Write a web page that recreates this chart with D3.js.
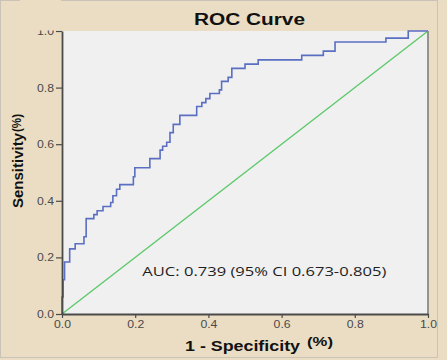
<!DOCTYPE html>
<html><head><meta charset="utf-8">
<script src="https://cdn.jsdelivr.net/npm/d3@7"></script>
<style>body{margin:0;background:#EBDDC3;} svg{display:block;}</style>
</head><body>
<script>
// ROC operating points (1 - specificity, sensitivity)
const fpr = [0, 0, 0.003, 0.007, 0.021, 0.036, 0.060, 0.066, 0.087, 0.096, 0.112, 0.133, 0.139, 0.149, 0.158, 0.195, 0.199, 0.240, 0.268, 0.275, 0.286, 0.295, 0.304, 0.322, 0.368, 0.382, 0.393, 0.404, 0.430, 0.436, 0.454, 0.464, 0.500, 0.536, 0.655, 0.714, 0.746, 0.885, 0.946, 1.0];
const tpr = [0, 0.060, 0.121, 0.184, 0.230, 0.248, 0.273, 0.337, 0.351, 0.365, 0.380, 0.394, 0.418, 0.441, 0.457, 0.485, 0.517, 0.549, 0.579, 0.593, 0.607, 0.641, 0.670, 0.702, 0.733, 0.747, 0.761, 0.779, 0.792, 0.822, 0.836, 0.868, 0.883, 0.898, 0.914, 0.929, 0.961, 0.975, 1.0, 1.0];
const refLine = [[0, 0], [1, 1]];
const tickValues = [0, 0.2, 0.4, 0.6, 0.8, 1.0];
const tickLabels = ["0.0", "0.2", "0.4", "0.6", "0.8", "1.0"];
const titleText = "ROC Curve";
const xTitle = "1 - Specificity";
const yTitle = "Sensitivity";
const unitText = "(%)";
const aucText = "AUC: 0.739 (95% CI 0.673-0.805)";

const W = 447, H = 360;
const svg = d3.select("body").append("svg").attr("width", W).attr("height", H);
svg.append("rect").attr("x", 0).attr("y", 0).attr("width", W).attr("height", H).attr("fill", "#EBDDC3");
svg.append("rect").attr("x", 0.5).attr("y", 0.5).attr("width", 437).attr("height", 357)
  .attr("fill", "none").attr("stroke", "#C9C3B8").attr("stroke-width", 1);

const x = d3.scaleLinear().domain([0, 1]).range([62, 428]);
const y = d3.scaleLinear().domain([0, 1]).range([314, 31]);

// plot background
svg.append("rect").attr("x", x(0)).attr("y", y(1)).attr("width", x(1) - x(0)).attr("height", y(0) - y(1))
  .attr("fill", "#F0F0F0");

// reference diagonal
svg.append("path").datum(refLine)
  .attr("d", d3.line().x(d => x(d[0])).y(d => y(d[1])))
  .attr("fill", "none").attr("stroke", "#5CC96B").attr("stroke-width", 1.4);

// ROC curve
const pts = fpr.map((v, i) => [v, tpr[i]]);
svg.append("path").datum(pts)
  .attr("d", d3.line().x(d => x(d[0])).y(d => y(d[1])).curve(d3.curveStepAfter))
  .attr("fill", "none").attr("stroke", "#5A6EC2").attr("stroke-width", 1.6).attr("stroke-linejoin", "miter");

// right border
svg.append("line").attr("x1", x(1)).attr("x2", x(1)).attr("y1", y(1)).attr("y2", y(0))
  .attr("stroke", "#8A8A8A").attr("stroke-width", 1.8);

// axes
const xAxis = svg.append("g").attr("transform", `translate(0,${y(0)})`)
  .call(d3.axisBottom(x).tickValues(tickValues).tickFormat((d, i) => tickLabels[i]).tickSize(4).tickSizeOuter(0));
const yAxis = svg.append("g").attr("transform", `translate(${x(0)},0)`)
  .call(d3.axisLeft(y).tickValues(tickValues).tickFormat((d, i) => tickLabels[i]).tickSize(6).tickSizeOuter(0));
[xAxis, yAxis].forEach(g => {
  g.select(".domain").attr("stroke", "#4A4A4A").attr("stroke-width", 1.8);
  g.selectAll(".tick line").attr("stroke", "#4A4A4A").attr("stroke-width", 1.2);
  g.selectAll(".tick text").attr("fill", "#4A4A4A").attr("font-family", "Liberation Sans, Arial, sans-serif")
    .attr("font-size", 10).attr("textLength", 17).attr("lengthAdjust", "spacingAndGlyphs");
});
xAxis.selectAll(".tick text").attr("dy", null).attr("y", 13.5);
yAxis.selectAll(".tick text").attr("x", -8).attr("dy", "0.34em");

// top band covering the upper part of the "1.0" label (as in reference)
svg.append("rect").attr("x", 20).attr("y", 0).attr("width", 41).attr("height", 30.5).attr("fill", "#EBDDC3");

// title
svg.append("text").attr("x", 194).attr("y", 25).text(titleText)
  .attr("font-family", "Liberation Sans, Arial, sans-serif").attr("font-weight", "bold").attr("font-size", 16)
  .attr("fill", "#111").attr("textLength", 111).attr("lengthAdjust", "spacingAndGlyphs");

// x title
svg.append("text").attr("x", 185).attr("y", 350.5).text(xTitle)
  .attr("font-family", "Liberation Sans, Arial, sans-serif").attr("font-weight", "bold").attr("font-size", 14)
  .attr("fill", "#111").attr("textLength", 115).attr("lengthAdjust", "spacingAndGlyphs");
svg.append("text").attr("x", 307).attr("y", 345.5).text(unitText)
  .attr("font-family", "Liberation Sans, Arial, sans-serif").attr("font-weight", "bold").attr("font-size", 12.5)
  .attr("fill", "#111").attr("textLength", 26).attr("lengthAdjust", "spacingAndGlyphs");

// y title
svg.append("text").attr("transform", "translate(22.7,208) rotate(-90)").text(yTitle)
  .attr("font-family", "Liberation Sans, Arial, sans-serif").attr("font-weight", "bold").attr("font-size", 14)
  .attr("fill", "#111").attr("textLength", 75).attr("lengthAdjust", "spacingAndGlyphs");
svg.append("text").attr("transform", "translate(20.5,132) rotate(-90)").text(unitText)
  .attr("font-family", "Liberation Sans, Arial, sans-serif").attr("font-weight", "bold").attr("font-size", 12.5)
  .attr("fill", "#111").attr("textLength", 18).attr("lengthAdjust", "spacingAndGlyphs");

// AUC annotation
svg.append("text").attr("x", 142.3).attr("y", 275.7).text(aucText)
  .attr("font-family", "Open Sans, sans-serif").attr("font-size", 13.2)
  .attr("fill", "#1E1E1E").attr("textLength", 244).attr("lengthAdjust", "spacingAndGlyphs");
</script>
</body></html>
